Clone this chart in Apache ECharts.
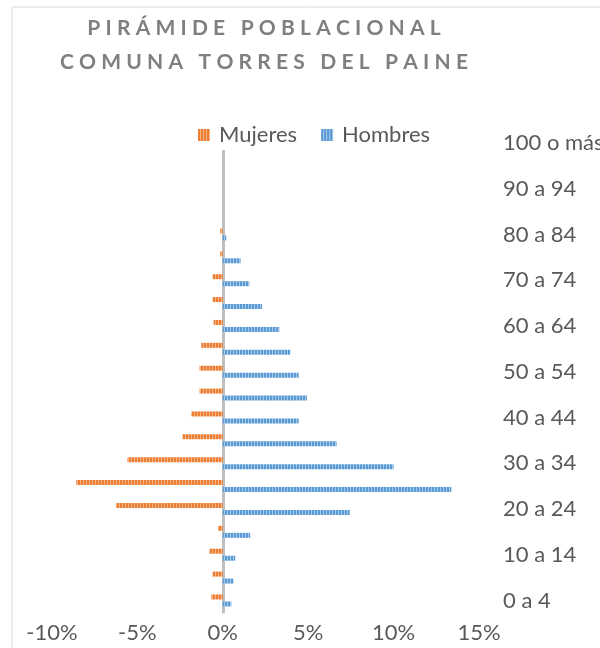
<!DOCTYPE html>
<html>
<head>
<meta charset="utf-8">
<script src="https://cdn.jsdelivr.net/npm/echarts@6/dist/echarts.min.js"></script>
<style>
  html, body { margin: 0; padding: 0; background: #fff; }
  #chart { width: 600px; height: 648px; }
</style>
</head>
<body>
<div id="chart"></div>
<script>
const ageGroups = ['0 a 4', '5 a 9', '10 a 14', '15 a 19', '20 a 24', '25 a 29', '30 a 34',
  '35 a 39', '40 a 44', '45 a 49', '50 a 54', '55 a 59', '60 a 64', '65 a 69', '70 a 74',
  '75 a 79', '80 a 84', '85 a 89', '90 a 94', '95 a 99', '100 o más']

// porcentaje del total (mujeres en negativo)
const mujeres = [-0.67, -0.6, -0.79, -0.28, -6.26, -8.58, -5.58, -2.37, -1.85, -1.36, -1.36,
  -1.26, -0.54, -0.6, -0.6, -0.15, -0.15, 0, 0, 0, 0]
const hombres = [0.5, 0.63, 0.73, 1.6, 7.43, 13.38, 10.0, 6.66, 4.44, 4.93, 4.44,
  3.95, 3.31, 2.3, 1.55, 1.04, 0.2, 0, 0, 0, 0]

const xTicks = { min: -10, max: 15, step: 5 }

const stripes = (color, light) => {
  const c = document.createElement('canvas')
  c.width = 3
  c.height = 4
  const ctx = c.getContext('2d')
  ctx.fillStyle = color
  ctx.fillRect(0, 0, 3, 4)
  ctx.fillStyle = light
  ctx.fillRect(2, 0, 1, 4)
  return { image: c, repeat: 'repeat' }
}

const spaced = str => str.split('').map(ch => `{s|${ch}}`).join('')

const chart = echarts.init(document.getElementById('chart'))

const textColor = '#595959'
const fontFamily = 'Lato, "Open Sans", sans-serif'
const titleStyle = { fontSize: 21, fontWeight: 'bold', fill: '#7f7f7f', padding: [0, 2.6, 0, 2.6], fontFamily }

const option = {
  animation: false,
  textStyle: { fontFamily },
  graphic: [
    {
      type: 'rect',
      shape: { x: 12, y: 7, width: 800, height: 800 },
      style: { fill: 'none', stroke: '#d9d9d9', lineWidth: 1 },
      silent: true
    },
    {
      type: 'text',
      x: 264,
      y: 28,
      style: { text: spaced('PIRÁMIDE POBLACIONAL'), align: 'center', verticalAlign: 'middle', rich: { s: titleStyle } }
    },
    {
      type: 'text',
      x: 264,
      y: 62,
      style: { text: spaced('COMUNA TORRES DEL PAINE'), align: 'center', verticalAlign: 'middle', rich: { s: titleStyle } }
    }
  ],
  legend: {
    data: ['Mujeres', 'Hombres'],
    top: 122,
    left: 193,
    itemWidth: 12,
    itemHeight: 12,
    itemGap: 24,
    icon: 'rect',
    backgroundColor: '#fff',
    padding: [2, 5, 4, 5],
    textStyle: { fontSize: 22, color: textColor, fontFamily, padding: [0, 0, 0, 4] }
  },
  grid: {
    left: 52,
    right: 121,
    top: 131.5,
    height: 480.4,
    outerBoundsMode: 'none'
  },
  xAxis: {
    type: 'value',
    min: xTicks.min,
    max: xTicks.max,
    interval: xTicks.step,
    axisLine: { show: false },
    axisTick: { show: false },
    splitLine: { show: false },
    axisLabel: {
      formatter: v => `${v}%`,
      fontSize: 22,
      color: textColor,
      margin: 10,
      fontFamily
    }
  },
  yAxis: [
    {
      type: 'category',
      data: ageGroups,
      axisLine: { onZero: true, lineStyle: { color: '#bfbfbf', width: 3 } },
      axisTick: { show: false },
      axisLabel: { show: false }
    },
    {
      type: 'category',
      data: ageGroups,
      position: 'right',
      axisLine: { show: false },
      axisTick: { show: false },
      axisLabel: {
        interval: 1,
        fontSize: 22,
        color: textColor,
        margin: 24,
        fontFamily
      }
    }
  ],
  series: [
    {
      name: 'Mujeres',
      type: 'bar',
      yAxisIndex: 0,
      data: mujeres,
      barWidth: 5,
      barGap: '40%',
      itemStyle: { color: stripes('#ED7D31', '#f4b48a') }
    },
    {
      name: 'Hombres',
      type: 'bar',
      yAxisIndex: 0,
      data: hombres,
      barWidth: 5,
      barGap: '40%',
      itemStyle: { color: stripes('#5B9BD5', '#a9c9e9') }
    }
  ]
}

chart.setOption(option)
</script>
</body>
</html>
